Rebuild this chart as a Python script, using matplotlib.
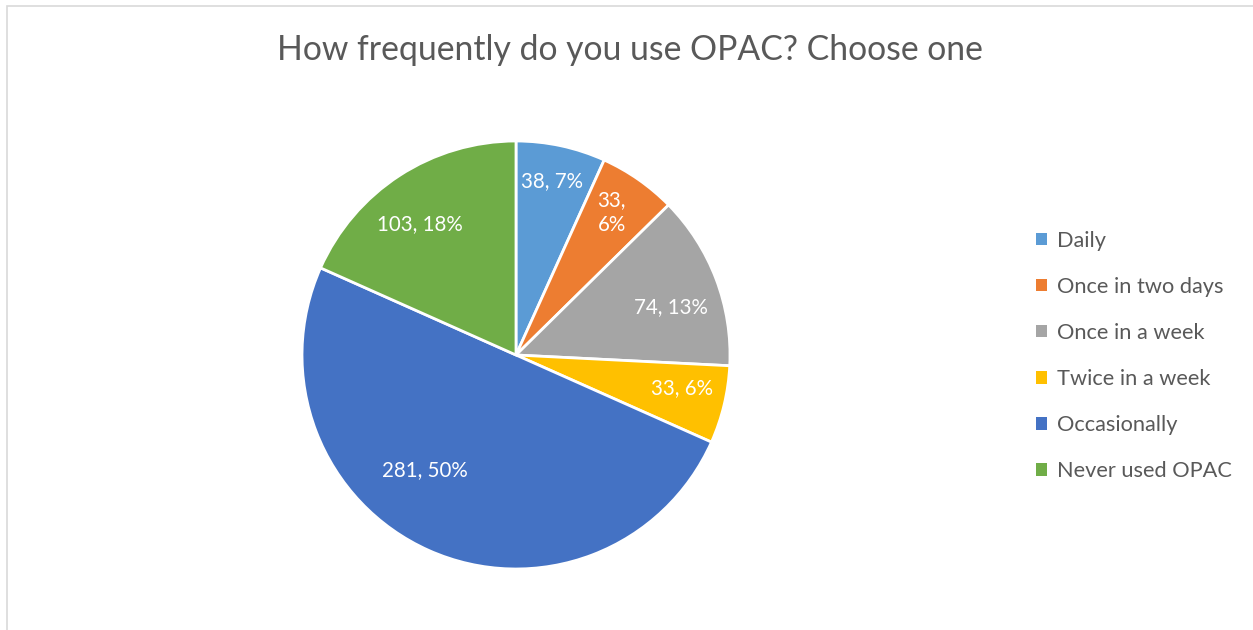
import matplotlib.pyplot as plt
import numpy as np
from matplotlib.patches import Rectangle

'''
 Chart data
'''
categories = ['Daily', 'Once in two days', 'Once in a week', 'Twice in a week',
              'Occasionally', 'Never used OPAC']
counts = [38, 33, 74, 33, 281, 103]
colors = ['#5B9BD5', '#ED7D31', '#A5A5A5', '#FFC000', '#4472C4', '#70AD47']
title = 'How frequently do you use OPAC? Choose one'

# data label layout: distance from centre (fraction of radius) and angle shift from mid-slice
LABEL_R = [0.83, 0.80, 0.757, 0.79, 0.685, 0.76]
LABEL_SHIFT = [0.5, 1.0, -3.8, 2.0, -14.4, 3.2]
WRAPPED = [False, True, False, False, False, False]
TEXT_GRAY = '#595959'

plt.rcParams['font.family'] = ['Lato', 'DejaVu Sans']

fig = plt.figure(figsize=(12.53, 6.30), dpi=100)
W, H = 1253, 630

# outer chart border (cropped on right/bottom)
fig.patches.append(Rectangle((7 / W, -0.1), 1.2, 1 - 6 / H + 0.1, transform=fig.transFigure,
                             fill=False, edgecolor='#D9D9D9', linewidth=1.2))

cx, cy, r = 516, 355, 214
ax = fig.add_axes([(cx - r) / W, (H - cy - r) / H, 2 * r / W, 2 * r / H])
wedges, _ = ax.pie(counts, colors=colors, startangle=90, counterclock=False,
                   wedgeprops=dict(edgecolor='white', linewidth=2))
ax.set_xlim(-1, 1)
ax.set_ylim(-1, 1)
ax.set_aspect('equal')
ax.axis('off')

total = sum(counts)
for w, n, lr, sh, wrap in zip(wedges, counts, LABEL_R, LABEL_SHIFT, WRAPPED):
    mid = np.deg2rad((w.theta1 + w.theta2) / 2 + sh)
    pct = round(100 * n / total)
    txt = f'{n},\n{pct}%' if wrap else f'{n}, {pct}%'
    ax.text(lr * np.cos(mid), lr * np.sin(mid), txt, ha='center', va='center',
            color='white', fontsize=14.8, linespacing=1.3)

fig.text(630 / W, 1 - 50 / H, title, ha='center', va='center', fontsize=24.3, color=TEXT_GRAY)

leg = fig.legend(wedges, categories, loc='center left', bbox_to_anchor=(1016 / W, 1 - 356 / H),
                 frameon=False, fontsize=15.7, handlelength=0.5, handleheight=0.5,
                 handletextpad=0.5, labelspacing=1.2, labelcolor=TEXT_GRAY)
for h in leg.legend_handles:
    h.set_linewidth(0)

fig.savefig('out.png', dpi=100)
